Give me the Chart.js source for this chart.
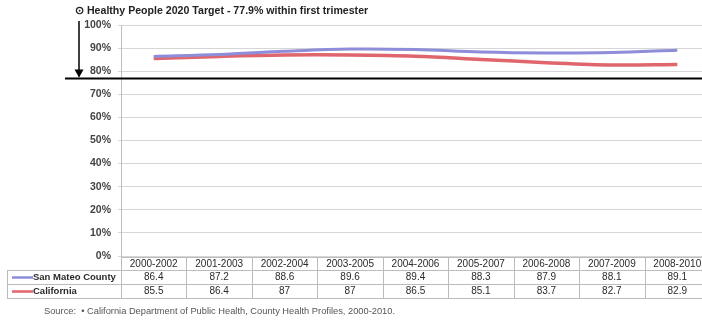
<!DOCTYPE html>
<html>
<head>
<meta charset="utf-8">
<script src="https://cdn.jsdelivr.net/npm/chart.js@4"></script>
<style>
  html, body { margin: 0; padding: 0; background: #fff; overflow: hidden; }
  #wrap { width: 710px; height: 322px; position: relative; }
</style>
</head>
<body>
<div id="wrap"><canvas id="chart"></canvas></div>
<script>
const periods = ['2000-2002', '2001-2003', '2002-2004', '2003-2005', '2004-2006', '2005-2007', '2006-2008', '2007-2009', '2008-2010'];
const sanMateo = [86.4, 87.2, 88.6, 89.6, 89.4, 88.3, 87.9, 88.1, 89.1];
const california = [85.5, 86.4, 87, 87, 86.5, 85.1, 83.7, 82.7, 82.9];
const target = 77.9;
const titleText = '\u2299 Healthy People 2020 Target - 77.9% within first trimester';
const sourceText = 'Source:  \u2022 California Department of Public Health, County Health Profiles, 2000-2010.';

const FONT = '"Liberation Sans", Arial, sans-serif';
const BLUE = '#8d8dda';
const RED = '#e0666e';

// table under the plot, the arrow, the target line and the texts
const extras = {
  id: 'extras',
  afterDraw(chart) {
    const ctx = chart.ctx;
    const x = chart.scales.x;
    const y = chart.scales.y;
    const left = chart.chartArea.left;
    const colW = (x.getPixelForValue(1) - x.getPixelForValue(0));
    const tblLeft = 7;
    const tblRight = chart.chartArea.right;
    const rowTop = [257, 270, 284, 298];

    ctx.save();
    ctx.strokeStyle = '#bcbcbc';
    ctx.lineWidth = 1;
    // horizontal borders
    ctx.beginPath();
    ctx.moveTo(left, rowTop[0] + 0.5); ctx.lineTo(tblRight, rowTop[0] + 0.5);
    for (let i = 1; i < rowTop.length; i++) {
      ctx.moveTo(tblLeft, rowTop[i] + 0.5); ctx.lineTo(tblRight, rowTop[i] + 0.5);
    }
    // vertical borders
    ctx.moveTo(tblLeft + 0.5, rowTop[1]); ctx.lineTo(tblLeft + 0.5, rowTop[3]);
    for (let i = 0; i <= periods.length; i++) {
      const bx = Math.round(x.getPixelForValue(i) - colW / 2) + 0.5;
      ctx.moveTo(bx, rowTop[0]); ctx.lineTo(bx, rowTop[3]);
    }
    ctx.stroke();

    ctx.fillStyle = '#2a2a2a';
    ctx.font = '10px ' + FONT;
    ctx.textAlign = 'center';
    ctx.textBaseline = 'middle';
    const rows = [periods, sanMateo, california];
    rows.forEach((vals, r) => {
      const cy = (rowTop[r] + rowTop[r + 1]) / 2 + 0.5;
      vals.forEach((v, i) => ctx.fillText(String(v), x.getPixelForValue(i), cy));
    });

    // row labels with line swatches
    [['San Mateo County', BLUE], ['California', RED]].forEach(([label, col], r) => {
      const cy = (rowTop[r + 1] + rowTop[r + 2]) / 2 + 0.5;
      ctx.strokeStyle = col;
      ctx.lineWidth = 2.5;
      ctx.beginPath();
      ctx.moveTo(12, cy); ctx.lineTo(33, cy);
      ctx.stroke();
      ctx.fillStyle = '#2a2a2a';
      ctx.textAlign = 'left';
      ctx.font = 'bold 9.5px ' + FONT;
      ctx.fillText(label, 33, cy);
    });

    // target line and arrow
    const ty = y.getPixelForValue(target) + 2.5;
    ctx.strokeStyle = '#000';
    ctx.lineWidth = 2;
    ctx.beginPath();
    ctx.moveTo(65, ty); ctx.lineTo(chart.width, ty);
    ctx.stroke();
    ctx.lineWidth = 1.5;
    ctx.beginPath();
    ctx.moveTo(79, 21); ctx.lineTo(79, ty - 2);
    ctx.stroke();
    ctx.fillStyle = '#000';
    ctx.beginPath();
    ctx.moveTo(74.5, ty - 9); ctx.lineTo(83.5, ty - 9); ctx.lineTo(79, ty - 1);
    ctx.closePath();
    ctx.fill();

    // title and source
    ctx.fillStyle = '#222';
    ctx.font = 'bold 10.6px ' + FONT;
    ctx.textAlign = 'left';
    ctx.fillText(titleText, 75, 11);
    ctx.fillStyle = '#555';
    ctx.font = '9.3px ' + FONT;
    ctx.fillText(sourceText, 44, 311);
    ctx.restore();
  }
};

new Chart(document.getElementById('chart'), {
  type: 'line',
  data: {
    labels: periods,
    datasets: [
      { label: 'San Mateo County', data: sanMateo, borderColor: BLUE, borderWidth: 3, pointRadius: 0, tension: 0.35 },
      { label: 'California', data: california, borderColor: RED, borderWidth: 3.5, pointRadius: 0, tension: 0.35 }
    ]
  },
  options: {
    responsive: true,
    maintainAspectRatio: false,
    animation: false,
    events: [],
    layout: { padding: { top: 25, bottom: 66, left: 0, right: 0 } },
    plugins: { legend: { display: false }, tooltip: { enabled: false } },
    scales: {
      x: {
        display: false,
        offset: true
      },
      y: {
        min: 0,
        max: 100,
        afterFit(scale) { scale.width = 121; },
        border: { display: true, color: '#bdbdbd' },
        grid: { color: '#d6d6d6', tickLength: 3 },
        ticks: {
          stepSize: 10,
          padding: 7,
          color: '#444',
          font: { family: FONT, size: 10.5, weight: 'bold' },
          callback: v => v + '%'
        }
      }
    }
  },
  plugins: [extras]
});
</script>
</body>
</html>
